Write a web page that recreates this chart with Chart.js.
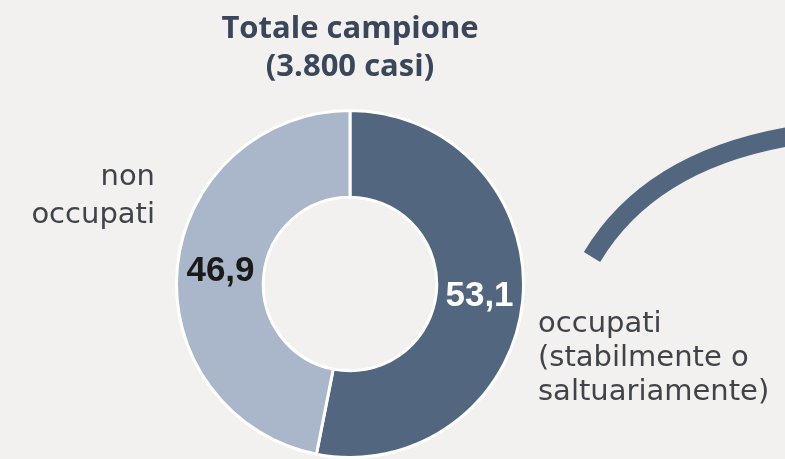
<!DOCTYPE html>
<html>
<head>
<meta charset="utf-8">
<script src="https://cdn.jsdelivr.net/npm/chart.js@4/dist/chart.umd.min.js"></script>
<style>
  html, body { margin: 0; padding: 0; background: #f2f1ef; }
  #wrap { position: relative; width: 785px; height: 459px; }
</style>
</head>
<body>
<div id="wrap"><canvas id="chart" width="785" height="459"></canvas></div>
<script>
// --- Data ---
const categories = ["occupati (stabilmente o saltuariamente)", "non occupati"];
const values = [53.1, 46.9];
const sliceColors = ["#52667f", "#aab6c9"];
const valueColors = ["#ffffff", "#1a1a1a"];
const titleLines = ["Totale campione", "(3.800 casi)"];
const outerLabels = [["occupati", "(stabilmente o", "saltuariamente)"], ["non", "occupati"]];

// --- Text + decoration drawn on the canvas ---
const annotations = {
  id: "annotations",
  afterDraw(chart) {
    const ctx = chart.ctx;
    const arcs = chart.getDatasetMeta(0).data;
    ctx.save();

    // title
    ctx.fillStyle = "#3a4659";
    ctx.font = "bold 31px 'Open Sans'";
    ctx.textAlign = "center";
    ctx.textBaseline = "alphabetic";
    ctx.fillText(titleLines[0], 350, 38);
    ctx.fillText(titleLines[1], 350, 76);

    // values inside the slices
    ctx.font = "bold 35px 'Liberation Sans'";
    ctx.textBaseline = "middle";
    arcs.forEach((arc, i) => {
      const p = arc.tooltipPosition();
      ctx.fillStyle = valueColors[i];
      ctx.fillText(values[i].toFixed(1).replace(".", ","), p.x, p.y);
    });

    // outer labels
    ctx.fillStyle = "#404349";
    ctx.font = "29px 'DejaVu Sans'";
    ctx.textBaseline = "alphabetic";
    ctx.textAlign = "left";
    outerLabels[0].forEach((t, k) => ctx.fillText(t, 538, 332 + k * 34));
    ctx.textAlign = "right";
    outerLabels[1].forEach((t, k) => ctx.fillText(t, 155, 185 + k * 38));

    // curved connector
    ctx.strokeStyle = "#52667f";
    ctx.lineWidth = 19;
    ctx.lineCap = "butt";
    ctx.beginPath();
    ctx.moveTo(592, 257);
    ctx.quadraticCurveTo(650, 160, 792, 136);
    ctx.stroke();

    ctx.restore();
  }
};

new Chart(document.getElementById("chart"), {
  type: "doughnut",
  data: {
    labels: categories,
    datasets: [{
      data: values,
      backgroundColor: sliceColors,
      borderColor: "#ffffff",
      borderWidth: 3,
      hoverOffset: 0
    }]
  },
  options: {
    responsive: false,
    animation: false,
    cutout: "50%",
    layout: { padding: { left: 171, right: 256, top: 109, bottom: -5 } },
    plugins: {
      legend: { display: false },
      tooltip: { enabled: false }
    }
  },
  plugins: [annotations]
});
</script>
</body>
</html>
